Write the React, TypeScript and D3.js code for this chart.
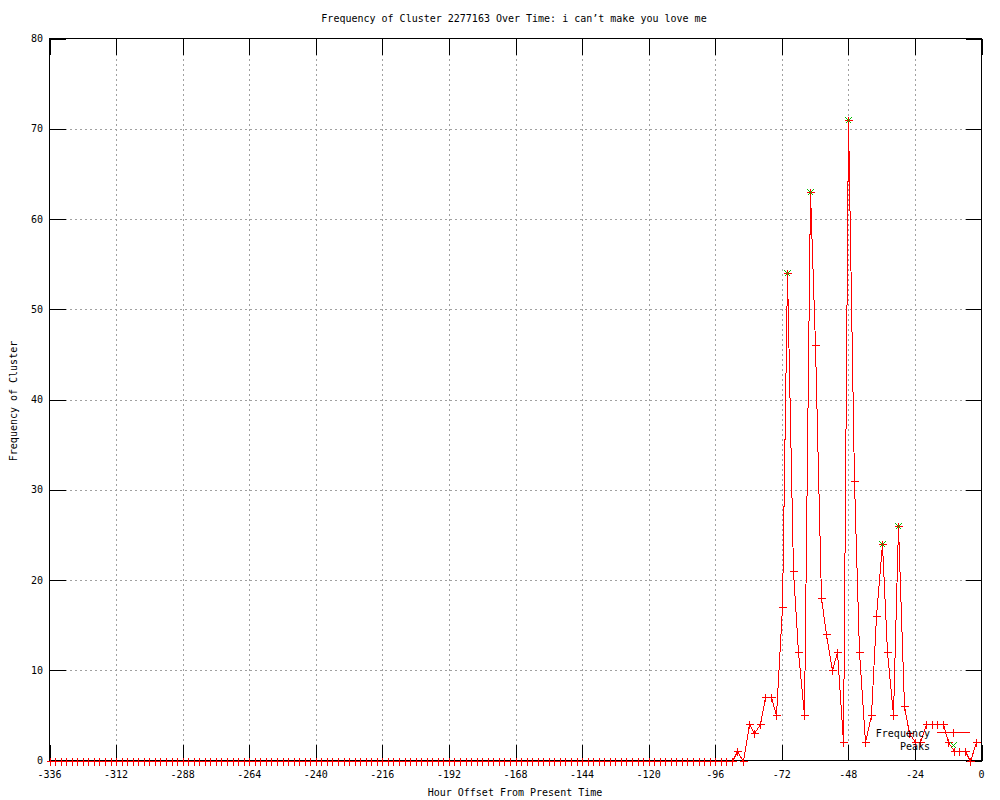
import React, { useEffect, useRef } from 'react';
import * as d3 from 'd3';

// hours sampled every 2h, from two weeks ago up to the present
const hours: number[] = d3.range(-336, 0, 2);

// frequency per sample (same order as hours)
const frequency: number[] = [
	0, 0, 0, 0, 0, 0, 0, 0, 0, 0, 0, 0, 0, 0, 0, 0, 0, 0, 0, 0,
	0, 0, 0, 0, 0, 0, 0, 0, 0, 0, 0, 0, 0, 0, 0, 0, 0, 0, 0, 0,
	0, 0, 0, 0, 0, 0, 0, 0, 0, 0, 0, 0, 0, 0, 0, 0, 0, 0, 0, 0,
	0, 0, 0, 0, 0, 0, 0, 0, 0, 0, 0, 0, 0, 0, 0, 0, 0, 0, 0, 0,
	0, 0, 0, 0, 0, 0, 0, 0, 0, 0, 0, 0, 0, 0, 0, 0, 0, 0, 0, 0,
	0, 0, 0, 0, 0, 0, 0, 0, 0, 0, 0, 0, 0, 0, 0, 0, 0, 0, 0, 0,
	0, 0, 0, 0,
	1, 0, 4, 3, 4, 7, 7, 5, 17, 54, 21, 12, 5, 63, 46, 18, 14, 10, 12, 2,
	71, 31, 12, 2, 5, 16, 24, 12, 5, 26, 6, 3, 2, 2, 4, 4, 4, 4, 2, 1,
	1, 1, 0, 2
];

const peakHours: number[] = [-70, -62, -48, -36, -30];
const peakValues: number[] = [54, 63, 71, 24, 26];

const xTicks: number[] = [-336, -312, -288, -264, -240, -216, -192, -168, -144, -120, -96, -72, -48, -24, 0];
const yTicks: number[] = [0, 10, 20, 30, 40, 50, 60, 70, 80];

const TITLE = 'Frequency of Cluster 2277163 Over Time: i can\u2019t make you love me';
const X_LABEL = 'Hour Offset From Present Time';
const Y_LABEL = 'Frequency of Cluster';

const FONT = '"DejaVu Sans Mono", monospace';

export default function App() {
	const ref = useRef<SVGSVGElement>(null);

	useEffect(() => {
		const svg = d3.select(ref.current);
		svg.selectAll('*').remove();

		const left = 49.5;
		const right = 981.5;
		const top = 38.5;
		const bottom = 760.5;
		const tick = 16;

		const x = d3.scaleLinear().domain([-336, 0]).range([left, right]);
		const y = d3.scaleLinear().domain([0, 80]).range([bottom, top]);

		svg.append('rect').attr('width', 1000).attr('height', 800).attr('fill', '#fff');

		// grid
		const grid = svg.append('g').attr('stroke', '#a0a0a0').attr('stroke-dasharray', '2,3').attr('shape-rendering', 'crispEdges');
		grid.selectAll('line.gx')
			.data(xTicks.slice(1, -1))
			.enter()
			.append('line')
			.attr('x1', d => Math.round(x(d)) + 0.5)
			.attr('x2', d => Math.round(x(d)) + 0.5)
			.attr('y1', top)
			.attr('y2', bottom);
		grid.selectAll('line.gy')
			.data(yTicks.slice(1, -1))
			.enter()
			.append('line')
			.attr('x1', left)
			.attr('x2', right)
			.attr('y1', d => Math.round(y(d)) + 0.5)
			.attr('y2', d => Math.round(y(d)) + 0.5);

		// tick marks, mirrored on all sides
		const ticks = svg.append('g').attr('stroke', '#000').attr('shape-rendering', 'crispEdges');
		xTicks.forEach(d => {
			const px = Math.round(x(d)) + 0.5;
			ticks.append('line').attr('x1', px).attr('x2', px).attr('y1', bottom).attr('y2', bottom - tick);
			ticks.append('line').attr('x1', px).attr('x2', px).attr('y1', top).attr('y2', top + tick);
		});
		yTicks.forEach(d => {
			const py = Math.round(y(d)) + 0.5;
			ticks.append('line').attr('x1', left).attr('x2', left + tick).attr('y1', py).attr('y2', py);
			ticks.append('line').attr('x1', right).attr('x2', right - tick).attr('y1', py).attr('y2', py);
		});

		// tick labels
		const labels = svg.append('g').attr('font-family', FONT).attr('font-size', 10).attr('fill', '#000');
		labels.selectAll('text.xl')
			.data(xTicks)
			.enter()
			.append('text')
			.attr('x', d => x(d))
			.attr('y', 778)
			.attr('text-anchor', 'middle')
			.text(d => String(d));
		labels.selectAll('text.yl')
			.data(yTicks)
			.enter()
			.append('text')
			.attr('x', 43)
			.attr('y', d => y(d) + 3.5)
			.attr('text-anchor', 'end')
			.text(d => String(d));

		// border
		svg.append('rect')
			.attr('x', left)
			.attr('y', top)
			.attr('width', right - left)
			.attr('height', bottom - top)
			.attr('fill', 'none')
			.attr('stroke', '#000')
			.attr('shape-rendering', 'crispEdges');

		// frequency line
		const pts: [number, number][] = hours.map((h, i) => [h, frequency[i]]);
		const line = d3.line<[number, number]>()
			.x(d => Math.round(x(d[0])) + 0.5)
			.y(d => Math.round(y(d[1])) + 0.5);
		svg.append('path')
			.datum(pts)
			.attr('d', line)
			.attr('fill', 'none')
			.attr('stroke', '#ff0000')
			.attr('stroke-width', 1)
			.attr('shape-rendering', 'crispEdges');

		const plus = (cx: number, cy: number, r: number) =>
			`M${cx - r},${cy}H${cx + r}M${cx},${cy - r}V${cy + r}`;
		const cross = (cx: number, cy: number, r: number) =>
			`M${cx - r},${cy - r}L${cx + r},${cy + r}M${cx - r},${cy + r}L${cx + r},${cy - r}`;

		svg.append('path')
			.attr('d', pts.map(d => plus(Math.round(x(d[0])) + 0.5, Math.round(y(d[1])) + 0.5, 4)).join(''))
			.attr('fill', 'none')
			.attr('stroke', '#ff0000')
			.attr('shape-rendering', 'crispEdges');

		// peaks
		svg.append('path')
			.attr('d', peakHours.map((h, i) => cross(Math.round(x(h)) + 0.5, Math.round(y(peakValues[i])) + 0.5, 3)).join(''))
			.attr('fill', 'none')
			.attr('stroke', '#00c000')
			.attr('shape-rendering', 'crispEdges');

		// legend
		const legend = svg.append('g').attr('font-family', FONT).attr('font-size', 10).attr('fill', '#000');
		legend.append('text').attr('x', 930).attr('y', 736.5).attr('text-anchor', 'end').text('Frequency');
		legend.append('text').attr('x', 930).attr('y', 749.5).attr('text-anchor', 'end').text('Peaks');
		svg.append('line')
			.attr('x1', 937).attr('x2', 970).attr('y1', 732.5).attr('y2', 732.5)
			.attr('stroke', '#ff0000').attr('shape-rendering', 'crispEdges');
		svg.append('path').attr('d', plus(953.5, 732.5, 4)).attr('stroke', '#ff0000').attr('shape-rendering', 'crispEdges');
		svg.append('path').attr('d', cross(953.5, 745.5, 3)).attr('stroke', '#00c000').attr('fill', 'none').attr('shape-rendering', 'crispEdges');

		// titles
		const titles = svg.append('g').attr('font-family', FONT).attr('font-size', 10).attr('fill', '#000');
		titles.append('text').attr('x', 514).attr('y', 22).attr('text-anchor', 'middle').text(TITLE);
		titles.append('text').attr('x', 515).attr('y', 796).attr('text-anchor', 'middle').text(X_LABEL);
		titles.append('text')
			.attr('transform', 'translate(17,401) rotate(-90)')
			.attr('text-anchor', 'middle')
			.text(Y_LABEL);
	}, []);

	return (
		<svg
			ref={ref}
			width={1000}
			height={800}
			style={{ position: 'absolute', left: 0, top: 0, display: 'block' }}
		/>
	);
}
